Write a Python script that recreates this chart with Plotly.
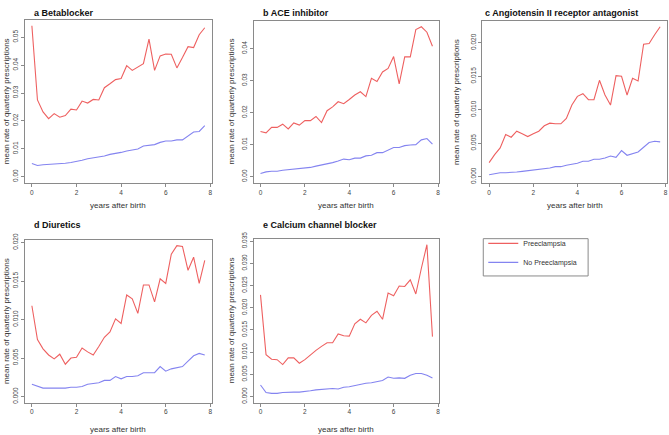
import plotly.graph_objects as go

years = [i * 0.25 for i in range(32)]

beta_pre = [0.0541, 0.0275, 0.0232, 0.0208, 0.0226, 0.0213, 0.0219, 0.0242, 0.0239, 0.0271,
            0.0264, 0.0277, 0.0275, 0.0319, 0.0333, 0.0348, 0.0352, 0.0398, 0.0381, 0.0392,
            0.0405, 0.0493, 0.0381, 0.0433, 0.0440, 0.0439, 0.0390, 0.0427, 0.0466, 0.0463,
            0.0509, 0.0534]
beta_no = [0.0047, 0.0040, 0.0043, 0.0044, 0.0044, 0.0045, 0.0048, 0.0051, 0.0054, 0.0059,
           0.0064, 0.0067, 0.0070, 0.0074, 0.0080, 0.0083, 0.0087, 0.0092, 0.0096, 0.0099,
           0.0110, 0.0112, 0.0115, 0.0123, 0.0128, 0.0128, 0.0132, 0.0132, 0.0145, 0.0160,
           0.0162, 0.0183]

ace_pre = [0.0141, 0.0137, 0.0154, 0.0154, 0.0164, 0.0149, 0.0168, 0.0161, 0.0175, 0.0175,
           0.0188, 0.0169, 0.0206, 0.0218, 0.0234, 0.0228, 0.0241, 0.0255, 0.0265, 0.0250,
           0.0307, 0.0297, 0.0327, 0.0338, 0.0375, 0.0290, 0.0374, 0.0374, 0.0459, 0.0468,
           0.0451, 0.0407]
ace_no = [0.0010, 0.0015, 0.0017, 0.0017, 0.0020, 0.0022, 0.0023, 0.0025, 0.0026, 0.0029,
          0.0033, 0.0036, 0.0041, 0.0044, 0.0049, 0.0055, 0.0053, 0.0058, 0.0058, 0.0065,
          0.0067, 0.0075, 0.0075, 0.0083, 0.0091, 0.0091, 0.0097, 0.0099, 0.0100, 0.0115,
          0.0119, 0.0102]

arb_pre = [0.0021, 0.0033, 0.0043, 0.0063, 0.0059, 0.0068, 0.0064, 0.0060, 0.0064, 0.0068,
           0.0076, 0.0080, 0.0079, 0.0079, 0.0087, 0.0107, 0.0120, 0.0124, 0.0115, 0.0115,
           0.0144, 0.0122, 0.0107, 0.0151, 0.0150, 0.0122, 0.0147, 0.0143, 0.0198, 0.0199,
           0.0212, 0.0224]
arb_no = [0.0003, 0.0005, 0.0006, 0.0006, 0.0006, 0.0007, 0.0008, 0.0009, 0.0009, 0.0011,
          0.0012, 0.0013, 0.0015, 0.0015, 0.0017, 0.0018, 0.0020, 0.0023, 0.0023, 0.0026,
          0.0026, 0.0028, 0.0031, 0.0029, 0.0039, 0.0032, 0.0035, 0.0037, 0.0044, 0.0051,
          0.0053, 0.0052]

diu_pre = [0.0118, 0.0074, 0.0062, 0.0054, 0.0049, 0.0055, 0.0042, 0.0050, 0.0051, 0.0063,
           0.0058, 0.0054, 0.0065, 0.0077, 0.0084, 0.0101, 0.0095, 0.0132, 0.0127, 0.0108,
           0.0145, 0.0145, 0.0123, 0.0153, 0.0147, 0.0185, 0.0196, 0.0195, 0.0164, 0.0181,
           0.0147, 0.0177]
diu_no = [0.0016, 0.0014, 0.0011, 0.0011, 0.0011, 0.0011, 0.0011, 0.0012, 0.0012, 0.0013,
          0.0016, 0.0017, 0.0018, 0.0021, 0.0021, 0.0026, 0.0023, 0.0026, 0.0026, 0.0027,
          0.0031, 0.0031, 0.0031, 0.0039, 0.0033, 0.0036, 0.0038, 0.0039, 0.0046, 0.0053,
          0.0056, 0.0054]

ccb_pre = [0.0229, 0.0094, 0.0084, 0.0083, 0.0072, 0.0087, 0.0087, 0.0075, 0.0083, 0.0094,
           0.0104, 0.0113, 0.0121, 0.0121, 0.0141, 0.0137, 0.0136, 0.0164, 0.0174, 0.0166,
           0.0183, 0.0192, 0.0174, 0.0233, 0.0227, 0.0249, 0.0248, 0.0263, 0.0231, 0.0289,
           0.0342, 0.0135]
ccb_no = [0.0026, 0.0009, 0.0007, 0.0007, 0.0009, 0.0010, 0.0010, 0.0010, 0.0011, 0.0013,
          0.0015, 0.0016, 0.0016, 0.0018, 0.0017, 0.0021, 0.0022, 0.0025, 0.0027, 0.0030,
          0.0031, 0.0033, 0.0036, 0.0044, 0.0041, 0.0042, 0.0041, 0.0048, 0.0052, 0.0052,
          0.0048, 0.0042]

titles = ["a Betablocker", "b ACE inhibitor", "c Angiotensin II receptor antagonist",
          "d Diuretics", "e Calcium channel blocker"]
series = [(beta_pre, beta_no), (ace_pre, ace_no), (arb_pre, arb_no),
          (diu_pre, diu_no), (ccb_pre, ccb_no)]
yticks = [[0, 0.01, 0.02, 0.03, 0.04, 0.05],
          [0, 0.01, 0.02, 0.03, 0.04],
          [0, 0.005, 0.010, 0.015, 0.020],
          [0, 0.005, 0.010, 0.015, 0.020],
          [0, 0.005, 0.010, 0.015, 0.020, 0.025, 0.030, 0.035]]
yticktext = [["0.00", "0.01", "0.02", "0.03", "0.04", "0.05"],
             ["0.00", "0.01", "0.02", "0.03", "0.04"],
             ["0.000", "0.005", "0.010", "0.015", "0.020"],
             ["0.000", "0.005", "0.010", "0.015", "0.020"],
             ["0.000", "0.005", "0.010", "0.015", "0.020", "0.025", "0.030", "0.035"]]
series_names = ["Preeclampsia", "No Preeclampsia"]

W, H = 669, 435
RED = "rgb(238,96,96)"
BLUE = "rgb(132,132,240)"
GRAY = "#8a8a8a"
FONT = "Liberation Sans, Arial, sans-serif"

# panel boxes in pixels: left, right, top, bottom
boxes = [(25, 212, 13, 179), (254, 440, 14, 179), (483, 668, 14, 179),
         (25, 212, 237, 403), (254, 440, 236, 403)]
title_pos = [(32, 6), (261, 6), (484, 6), (32, 222), (261, 222)]
ytitle_x = [6, 232, 457, 6, 232]
xtitle_y = [202, 202, 202, 430, 430]

fig = go.Figure()
annotations = []
for i in range(5):
    ax = "" if i == 0 else str(i + 1)
    pre, no = series[i]
    fig.add_trace(go.Scatter(x=years, y=pre, mode="lines", name=series_names[0],
                             line=dict(color=RED, width=1.1), showlegend=(i == 0),
                             xaxis="x" + ax, yaxis="y" + ax))
    fig.add_trace(go.Scatter(x=years, y=no, mode="lines", name=series_names[1],
                             line=dict(color=BLUE, width=1.1), showlegend=(i == 0),
                             xaxis="x" + ax, yaxis="y" + ax))
    l, r, t, b = boxes[i]
    ymax = max(pre)
    common = dict(showline=True, mirror=True, linecolor=GRAY, linewidth=1,
                  ticks="outside", ticklen=3, tickcolor=GRAY, showgrid=False,
                  zeroline=False, tickfont=dict(size=6.5, color="#444", family=FONT))
    fig.layout["xaxis" + ax] = dict(domain=[l / W, r / W], range=[-0.31, 8.06],
                                    tickvals=[0, 2, 4, 6, 8], anchor="y" + ax, **common)
    fig.layout["yaxis" + ax] = dict(domain=[1 - b / H, 1 - t / H],
                                    range=[-0.04 * ymax, 1.04 * ymax],
                                    tickvals=yticks[i], ticktext=yticktext[i],
                                    tickangle=-90, anchor="x" + ax, **common)
    tx, ty = title_pos[i]
    annotations.append(dict(text="<b>" + titles[i] + "</b>", x=tx / W, y=1 - ty / H,
                            xref="paper", yref="paper", xanchor="left", yanchor="middle",
                            showarrow=False, font=dict(size=9, color="#111", family=FONT)))
    annotations.append(dict(text="mean rate of quarterly prescriptions", x=ytitle_x[i] / W,
                            y=1 - (t + b) / 2 / H, xref="paper", yref="paper",
                            xanchor="center", yanchor="middle", textangle=-90,
                            showarrow=False, font=dict(size=8, color="#333", family=FONT)))
    annotations.append(dict(text="years after birth", x=(l + r) / 2 / W, y=1 - xtitle_y[i] / H,
                            xref="paper", yref="paper", xanchor="center", yanchor="middle",
                            showarrow=False, font=dict(size=8, color="#333", family=FONT)))

# legend frame
shapes = [dict(type="rect", xref="paper", yref="paper", x0=484 / W, x1=589 / W,
               y0=1 - 274 / H, y1=1 - 236 / H, line=dict(color=GRAY, width=1))]

fig.update_layout(
    width=W, height=H, margin=dict(l=0, r=0, t=0, b=0),
    paper_bgcolor="white", plot_bgcolor="white",
    annotations=annotations, shapes=shapes,
    legend=dict(x=484 / W, y=1 - 226 / H, xanchor="left", yanchor="top",
                borderwidth=0, bgcolor="rgba(0,0,0,0)",
                font=dict(size=7, color="#333", family=FONT), tracegroupgap=0,
                itemwidth=30),
)
fig.write_html("out.html", config={"displayModeBar": False},
               post_script="document.body.style.margin='0';document.body.style.overflow='hidden';")
